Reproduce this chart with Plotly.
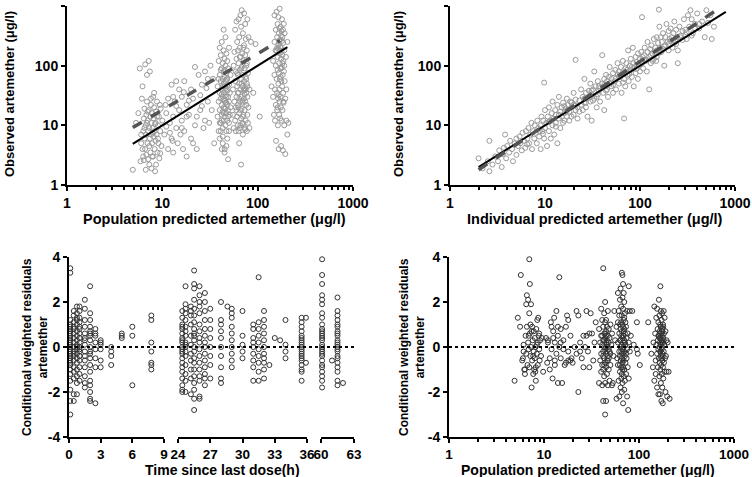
import plotly.graph_objects as go

# ---------------- DATA ----------------
# Top-left: population predicted (x) vs observed (y)
tl_points = [
    (4.9,1.8),(5.3,11),(5.6,16),(5.8,90),(6.0,5),(6.1,28),(6.2,45),(6.3,3),(6.3,8),(6.4,13),(6.4,2.6),(6.5,6),(6.5,19),
    (6.6,105),(6.6,4),(6.7,7),(6.7,10),(6.8,15),(6.8,3.2),(6.9,70),(6.9,25),(7.0,5),(7.0,12),(7.1,2.7),(7.1,8),(7.2,120),
    (7.2,18),(7.3,4.5),(7.3,9),(7.4,80),(7.4,6),(7.5,14),(7.5,3.5),(7.6,22),(7.6,7),(7.7,11),(7.7,1.9),(7.8,5),(7.8,16),
    (7.9,9),(8.0,3),(8.0,30),(8.1,6.5),(8.1,13),(8.2,20),(8.3,4),(8.3,8),(8.4,1.7),(8.5,11),(8.5,5.5),(8.6,17),(8.7,7),
    (8.8,25),(8.9,3.5),(9.0,10),(9.0,6),(9.2,14),(9.3,2.8),(9.5,8),(9.6,19),(9.8,4.5),(10,12),(6.2,4),(6.0,7),(5.9,2.5),
    (6.7,1.8),(7.3,2.2),(7.8,3),(8.6,2.2),(9.5,3.4),(6.5,9),(7.0,17),(7.6,28),(8.2,35),(8.8,14),(9.4,22),(6.9,11),(7.9,7.5),
    (8.4,10.5),(9.1,5),
    (10.5,7),(11,16),(11.5,4),(11.5,28),(12,11),(12.5,6),(12.5,48),(13,14),(13,3.5),(13.5,25),(14,9),(14,55),(14.5,5),
    (15,18),(15,40),(16,12),(16,30),(16.5,4),(17,55),(17,8),(18,22),(18,3),(19,15),(20,6),(20,40),(21,28),(22,10),(22,95),
    (23,4),(24,70),(25,18),(26,48),(28,12),(28,80),(30,25),(30,60),(31,11),(32,100),(33,18),(34,60),(35,5),(12,7.5),(14,21),
    (16,9),(19,26),(11,9.5),(13,30),(15.5,7),(18,14),(21,5),(25,32),(27,9),(29,42),(10.8,22),(12.8,5.5),(16.8,36),(23,14),(26,21),
    (38,14),(38,45),(39,8),(39,25),(39,120),(40,6),(40,18),(40,35),(40,70),(40,200),(41,11),(41,28),(41,55),(41,150),(42,4),
    (42,15),(42,22),(42,40),(42,90),(42,250),(43,9),(43,17),(43,30),(43,60),(43,110),(43,6.5),(44,12),(44,20),(44,35),(44,50),
    (44,80),(44,180),(44,400),(45,14),(45,26),(45,45),(45,65),(45,130),(45,3.5),(46,10),(46,19),(46,32),(46,55),(46,100),
    (46,300),(47,8),(47,16),(47,24),(47,40),(47,75),(47,160),(48,12),(48,22),(48,38),(48,60),(48,6),(49,18),(49,30),(49,90),
    (49,2.7),(50,11),(50,25),(50,48),(50,200),(51,15),(51,35),(52,20),(52,70),(43,5),(45,4),(47,4.5),(41,8),(44,27),(46,42),
    (48,120),(42,12),(45,85),(47,30),(49,14),(50,8),(39,60),(40,11),(44,16),(46,24),(43,45),(41,85),(45,19),(48,45),(42,33),(47,58),
    (55,15),(55,40),(56,9),(56,100),(57,25),(57,170),(58,12),(58,55),(58,400),(59,20),(59,80),(59,8),(60,30),(60,130),(60,550),
    (61,14),(61,45),(61,250),(62,10),(62,22),(62,70),(62,180),(63,35),(63,110),(63,600),(64,16),(64,50),(64,300),(64,5),(65,9),
    (65,25),(65,85),(65,200),(66,40),(66,140),(66,700),(67,13),(67,60),(67,450),(67,2.2),(68,19),(68,30),(68,95),(68,850),
    (69,11),(69,45),(69,160),(70,24),(70,70),(70,350),(70,7),(71,15),(71,38),(71,120),(72,28),(72,55),(72,220),(72,750),(73,9),
    (73,18),(73,90),(74,42),(74,150),(74,500),(75,12),(75,65),(75,280),(76,22),(76,35),(76,100),(77,8),(77,50),(77,180),(78,15),
    (78,30),(78,600),(79,11),(79,75),(80,20),(80,300),(82,40),(82,9),(85,250),(90,35),(95,230),(105,14),(60,18),(62,35),(64,28),
    (66,18),(68,50),(70,14),(72,40),(74,25),(76,60),(78,45),(61,75),(63,20),(65,140),(67,90),(69,26),(71,200),(73,33),(75,40),
    (77,110),(66,10),(70,10.5),(74,8.5),(63,8),
    (140,45),(145,30),(145,120),(148,15),(150,70),(150,250),(150,700),(152,12),(152,40),(155,100),(155,400),(155,22),(156,5.5),
    (158,60),(158,180),(158,800),(160,18),(160,35),(160,300),(162,85),(162,140),(162,500),(163,10),(164,28),(165,50),(165,220),
    (165,650),(166,4),(167,75),(167,350),(168,15),(168,110),(169,40),(170,25),(170,160),(170,900),(171,60),(172,270),(172,13),
    (173,90),(174,450),(174,30),(175,200),(175,20),(176,130),(176,4.5),(177,55),(178,380),(178,12),(179,95),(180,45),(180,600),
    (181,150),(182,18),(182,300),(183,70),(184,3.8),(185,240),(185,35),(186,120),(187,24),(188,500),(188,80),(190,10),(190,180),
    (192,55),(192,350),(195,28),(195,3.3),(198,140),(200,40),(200,12),(205,250),(205,7),(210,11),(168,260),(172,210),(176,320),
    (180,260),(164,190),(170,420),(184,400),(178,170),(174,65),(166,32),(160,200),(182,110),(186,25),(190,100),(176,90),(162,20),(154,180),
]
tl_identity = [(4.9, 4.9), (205, 205)]
tl_trend = [(4.9, 9.2), (172, 265)]

# Top-right: individual predicted (x) vs observed (y)
tr_points = [
    (2,2.8),(2.2,1.9),(2.5,2.5),(2.6,1.7),(2.6,5.5),(2.8,2.2),(3,3),(3.2,2.5),(3.3,3.8),(3.5,2),(3.6,3.3),(3.7,4.2),(3.8,7),
    (3.9,2.8),(4,4.5),(4.2,3.5),(4.3,5.5),(4.5,4),(4.6,2.5),(4.8,5),(5,3.2),(5,6),(5.2,4.5),(5.4,6.5),(5.5,5),(5.7,3.8),(5.8,7.5),
    (6,5.5),(6.2,4.2),(6.3,8),(6.5,6),(6.7,9),(6.8,5),(7,7),(7.2,11),(7.3,4),(7.5,8),(7.7,6),(7.8,10),(8,7.5),(8.2,5),(8.3,12),
    (8.5,9),(8.7,6.5),(9,10),(9,4),(9.2,14),(9.4,8),(9.8,52),(9.6,12),(9.8,6),(10,9),(10,18),(10.3,11),(10.5,4.5),(10.7,14),
    (11,8),(11,20),(11.3,12),(11.5,6),(11.8,16),(12,10),(12,25),(12.3,13),(12.5,7),(12.8,18),(13,11),(13,15),(13.5,22),(13.5,5),
    (14,13),(14,30),(14.5,17),(14.5,9),(15,14),(15,20),(15.5,24),(15.5,11),(16,16),(16,12),(16.5,19),(17,14),(17,28),(17.5,22),
    (18,17),(18,12),(18.5,25),(19,20),(19,14),(20,22),(20,35),(20,15),(21,18),(21,27),(22,20),(22,13),(23,26),(21,125),(24,22),
    (24,40),(25,18),(25,30),(26,24),(26,60),(27,35),(27,20),(28,28),(28,14),(29,38),(30,25),(30,50),(31,32),(31,12),(32,40),
    (33,28),(33,80),(34,45),(35,30),(35,20),(36,55),(37,38),(38,42),(38,25),(40,50),(40,150),(41,35),(42,60),(42,18),(43,45),
    (44,70),(45,40),(45,55),(46,30),(47,65),(48,50),(48,95),(50,45),(50,60),(52,75),(52,35),(54,55),(55,85),(56,40),(58,70),
    (58,110),(60,50),(60,80),(62,65),(63,95),(64,35),(65,75),(66,120),(68,60),(68,13),(70,90),(70,45),(72,110),(74,70),(75,180),
    (76,55),(78,100),(80,85),(80,130),(82,65),(84,200),(85,110),(86,45),(88,95),(90,140),(90,75),(92,115),(95,160),(95,60),
    (98,100),(100,130),(100,80),(103,170),(105,110),(105,650),(108,90),(110,150),(112,200),(115,120),(118,80),(120,170),(120,250),
    (125,140),(125,40),(128,190),(130,110),(132,220),(135,160),(140,280),(140,130),(145,200),(148,120),(150,180),(150,300),
    (155,240),(158,870),(160,450),(162,200),(165,300),(168,170),(170,250),(175,350),(180,210),(180,100),(185,300),(190,500),
    (195,250),(200,380),(200,180),(205,280),(210,420),(215,300),(220,200),(225,350),(230,550),(235,260),(240,400),(245,300),
    (250,180),(250,110),(260,450),(270,320),(280,380),(290,600),(300,400),(310,280),(320,700),(330,450),(340,850),(350,600),
    (360,350),(380,500),(400,750),(420,420),(450,550),(480,300),(500,850),(520,520),(550,700),(570,280),(600,450),
    (6.5,4.8),(9.5,7.2),(13,9.5),(16,21),(19,24),(23,17),(27,24),(32,26),(37,45),(44,38),(52,48),(60,65),(66,52),(73,85),
    (82,95),(92,88),(110,125),(130,150),(150,140),(175,190),(200,230),(230,240),(280,270),(310,360),(350,320),(420,500),
    (8.8,8),(11,11.5),(14,15),(17,17.5),(21,21.5),(26,28),(31,38),(36,33),(42,48),(50,52),(56,62),(63,70),(70,78),(77,72),
    (86,90),(96,105),(106,140),(118,125),(136,120),(160,165),(185,220),(210,260),(240,230),(265,300),(300,330),(380,420),
]
tr_identity = [(2, 2), (800, 800)]
tr_trend = [(2, 1.8), (740, 1000)]

# Bottom-left: time since last dose (h) columns and conditional weighted residuals
bl_columns = [
    (0.12, [3.5,3.3,1.2,1.0,0.8,0.6,0.5,0.3,0.2,0.1,0.0,-0.1,-0.2,-0.3,-0.5,-0.6,-0.8,-1.0,-1.2,-1.5,-1.9,-2.4,-3.0,0.9,0.4,-0.4,-0.7,0.7]),
    (0.45, [1.6,1.4,1.1,0.9,0.6,0.4,0.2,0.0,-0.2,-0.4,-0.6,-0.9,-1.1,-1.4,-2.1,-2.4,0.8,-0.3]),
    (0.75, [1.8,1.5,1.3,1.0,0.7,0.5,0.3,0.1,-0.1,-0.3,-0.5,-0.7,-1.0,-1.3,-1.6,-2.1,1.2,0.0]),
    (1.0, [1.8,1.6,1.3,1.1,0.8,0.6,0.4,0.2,0.0,-0.2,-0.4,-0.6,-0.9,-1.2,-1.5,0.9,-0.1]),
    (1.5, [2.1,1.7,1.2,0.9,0.6,0.3,0.1,-0.2,-0.6,-0.9,-1.3,-1.6,-1.8,0.4,-0.4]),
    (2.0, [2.7,1.5,1.2,0.9,0.7,0.5,0.3,0.0,-0.3,-0.5,-0.8,-1.1,-1.5,-1.7,-2.0,-2.3,-2.4,0.6,-0.2]),
    (2.5, [0.8,0.5,0.2,-0.1,-0.5,-0.9,-2.5,0.6]),
    (3.0, [0.3,0.1,-0.1,-0.6,-0.9,0.2]),
    (4.0, [0.0,-0.2,-0.4,-0.8]),
    (5.0, [0.6,0.5,0.4]),
    (6.0, [0.9,0.5,-1.7]),
    (7.8, [1.4,1.2,0.2,-0.2,-0.7,-0.8,-1.0]),
    (24.4, [1.6,1.3,1.0,0.8,0.6,0.4,0.2,0.0,-0.1,-0.3,-0.5,-0.7,-0.9,-1.1,-1.4,-1.7,-1.9,-2.0,0.9,0.3,-0.2]),
    (24.7, [2.7,1.9,1.7,1.5,1.2,0.9,0.7,0.5,0.2,0.0,-0.2,-0.4,-0.8,-1.2,-1.5,-2.0,0.1]),
    (25.2, [1.8,1.6,1.4,1.0,0.5,0.1,-0.3,-0.6,-1.0,-1.4,-2.1]),
    (25.5, [3.4,2.8,2.6,2.1,1.7,1.4,1.1,0.8,0.5,0.3,0.0,-0.2,-0.5,-0.7,-1.0,-1.3,-1.6,-1.9,-2.3,-2.8,0.6]),
    (26.0, [2.7,2.3,2.0,1.8,1.5,1.0,0.7,0.4,0.2,-0.1,-0.4,-0.7,-1.0,-1.3,-1.5,-2.2,-2.3]),
    (26.5, [2.4,2.0,1.6,1.2,0.8,0.5,0.2,0.0,-0.3,-0.6,-0.9,-1.2,-1.4,-1.7]),
    (27.0, [1.7,1.2,0.8,0.4,0.0,-0.4,-0.8,-1.4]),
    (28.0, [2.0,1.2,1.0,0.7,0.4,0.0,-0.4,-0.9,-1.4,-1.6]),
    (28.6, [1.8]),
    (29.0, [1.7,1.5,1.3,0.9,0.6,0.3,0.0,-0.3,-0.6,-0.9]),
    (30.0, [1.6,0.5,0.1,-0.2,-0.5]),
    (31.0, [1.0,0.8,0.4,0.2,0.0,-0.3,-0.6,-0.9,-1.5]),
    (31.5, [3.1,1.1,0.8,0.5,0.2,-0.1,-0.4,-0.7,-1.1,-1.5]),
    (32.0, [1.6,1.2,0.9,0.6,0.3,0.0,-0.3,-0.5,-0.7,-1.0,-1.4]),
    (32.5, [-0.8]),
    (33.0, [0.4]),
    (33.5, [0.3]),
    (34.0, [1.2,0.1,-0.2,-0.5]),
    (35.5, [1.3,1.1,0.9,0.7,0.5,0.4,0.3,0.2,0.1,0.0,-0.1,-0.2,-0.3,-0.4,-0.5,-0.6,-0.8,-1.0,-1.1,-1.5]),
    (35.9, [1.3,-0.7]),
    (60.1, [3.9,3.2,2.8,2.3,2.1,1.9,1.5,1.3,1.0,0.8,0.7,0.6,0.4,0.3,0.1,0.0,-0.1,-0.3,-0.4,-0.6,-0.8,-0.9,-1.1,-1.3,-1.5,-1.8,0.5,-0.2]),
    (61.0, [-0.6]),
    (61.5, [2.2,1.6,1.4,1.2,1.0,0.9,0.7,0.5,0.3,0.2,0.1,0.0,-0.1,-0.2,-0.4,-0.5,-0.7,-0.9,-1.1,-1.5,-1.7,0.6]),
    (62.0, [-1.6]),
]

# Bottom-right: population predicted (x) vs conditional weighted residuals (y)
br_points = [
    (4.9,-1.5),(5.3,1.3),(5.6,0.9),(5.7,3.2),(5.9,-0.6),(6.0,-0.5),(6.1,0.1),(6.2,-1.0),(6.3,-1.2),(6.4,0.5),(6.5,1.9),(6.5,-0.3),
    (6.6,2.3),(6.6,0.9),(6.7,-0.8),(6.8,2.1),(6.8,0.2),(6.9,-0.1),(7.0,3.9),(7.0,1.5),(7.0,-0.9),(7.1,2.8),(7.1,0.6),(7.2,-0.4),
    (7.3,1.9),(7.3,0.0),(7.4,-1.8),(7.5,0.9),(7.5,-0.6),(7.6,0.3),(7.7,-1.2),(7.8,0.7),(7.8,-0.2),(7.9,-1.0),(8.0,0.4),(8.0,-0.5),
    (8.1,0.0),(8.2,-1.5),(8.3,0.8),(8.4,-0.3),(8.5,1.2),(8.6,0.2),(8.6,-0.8),(8.7,1.3),(8.8,0.5),(8.9,-0.1),(9.0,-0.6),(9.1,0.3),
    (9.3,-0.4),(9.5,0.4),(9.8,-1.1),(6.3,-1.0),(6.9,0.5),(7.4,0.7),(8.2,-0.9),(8.9,0.6),(7.2,1.0),(8.4,0.1),(6.1,-0.2),(7.7,-0.4),(8.1,-1.1),
    (10.5,0.4),(10.8,-0.7),(11,0.3),(11.5,-1.0),(11.8,1.1),(12,-0.1),(12.3,-1.4),(12.5,0.7),(12.8,1.3),(13,0.2),(13,-0.6),(13.5,1.6),
    (13.5,-0.3),(14,0.9),(14,-1.6),(14.5,3.1),(14.5,0.0),(15,-0.5),(15,0.8),(15.5,-1.6),(16,0.3),(16.5,-0.8),(17,0.9),(17.5,1.4),
    (18,-0.2),(18,1.2),(19,0.5),(19.5,-0.5),(20,-0.7),(21,0.0),(22,1.6),(22,-0.3),(23,-2.0),(23,1.4),(24,0.2),(25,-0.5),(26,-0.9),
    (27,0.0),(28,1.6),(28,0.5),(29,-0.2),(30,0.6),(30,-0.9),(31,1.5),(32,0.6),(33,-0.6),(34,0.2),(35,1.1),(11,0.2),(12.5,0.4),
    (14,0.5),(16,-0.1),(18,-0.6),(13,-0.8),(15,0.2),(11.5,-0.5),(12,0.9),(17,-0.7),(19,-0.6),(24,-0.2),(26,0.5),
    (38,-1.6),(38,0.8),(39,0.2),(39,-0.6),(40,1.7),(40,0.5),(40,-0.3),(40,-1.1),(41,1.2),(41,0.1),(41,-0.8),(41,-1.7),(42,3.5),
    (42,0.9),(42,0.3),(42,-0.2),(42,-1.0),(42,-2.4),(43,1.5),(43,0.6),(43,0.0),(43,-0.5),(43,-1.3),(44,2.0),(44,1.1),(44,0.4),
    (44,-0.1),(44,-0.7),(44,-1.6),(44,-3.0),(45,1.2),(45,0.7),(45,0.2),(45,-0.3),(45,-0.9),(45,-2.4),(46,0.9),(46,0.3),(46,-0.2),
    (46,-0.6),(46,-1.2),(47,1.6),(47,0.5),(47,0.0),(47,-0.4),(47,-1.7),(48,0.8),(48,0.2),(48,-0.5),(48,-1.0),(49,0.4),(49,-0.2),
    (49,-1.5),(50,1.0),(50,-0.3),(50,-0.8),(51,0.1),(52,-1.7),(52,0.6),(53,-1.6),(43,0.3),(45,0.0),(47,-0.6),(42,-0.4),(44,0.6),
    (46,0.1),(48,-0.1),(41,0.5),(43,-0.8),(45,0.5),(55,1.6),(56,0.3),(54,-0.4),
    (58,-2.3),(58,0.9),(59,-0.5),(60,2.4),(60,1.1),(60,0.2),(60,-0.8),(61,1.6),(61,-1.5),(62,0.6),(62,-0.2),(62,-2.2),(63,2.1),
    (63,1.0),(63,0.3),(63,-0.4),(63,-1.1),(64,2.6),(64,0.8),(64,0.0),(64,-0.6),(64,-1.8),(65,1.8),(65,0.5),(65,-0.2),(65,-0.9),
    (65,-1.4),(66,3.3),(66,1.4),(66,0.7),(66,0.1),(66,-0.5),(66,-1.2),(66,-2.0),(67,3.2),(67,2.2),(67,1.0),(67,0.4),(67,-0.1),
    (67,-0.7),(67,-1.6),(68,2.8),(68,1.7),(68,0.9),(68,0.2),(68,-0.3),(68,-0.9),(68,-2.5),(69,2.4),(69,1.2),(69,0.5),(69,0.0),
    (69,-0.6),(69,-1.3),(70,2.0),(70,0.8),(70,0.3),(70,-0.2),(70,-1.0),(70,-1.9),(71,1.5),(71,0.6),(71,-0.4),(71,-1.5),(72,1.1),
    (72,0.1),(72,-0.7),(73,0.9),(73,-0.3),(73,-1.2),(74,0.4),(74,-0.5),(75,1.6),(75,-0.1),(75,-2.2),(76,0.6),(76,-0.9),(77,-2.8),
    (78,2.7),(78,0.2),(78,-1.4),(80,1.6),(80,-0.2),(82,0.5),(85,1.6),(88,0.1),(95,1.1),(95,-0.1),(97,-0.3),(102,-0.8),(66,-0.3),
    (68,0.5),(70,1.3),(64,0.3),(67,-1.0),(69,0.7),(71,0.2),(65,1.1),(63,-0.8),(62,1.4),
    (125,1.1),(135,-0.3),(140,-0.9),(142,0.2),(145,1.8),(145,-1.5),(148,0.6),(150,-0.6),(150,-1.2),(152,1.3),(152,0.1),(155,1.7),
    (155,-0.3),(155,-1.8),(157,0.8),(158,0.3),(158,-0.9),(160,1.1),(160,-0.1),(160,-2.1),(162,2.1),(162,0.5),(162,-0.5),(164,1.4),
    (164,0.0),(164,-1.3),(165,0.7),(165,-0.7),(166,0.2),(166,-2.1),(167,1.0),(167,-0.2),(168,2.7),(168,0.4),(168,-1.0),(169,0.9),
    (169,-0.4),(170,1.6),(170,0.1),(170,-1.6),(171,0.6),(171,-0.8),(172,0.3),(172,-2.4),(173,1.2),(173,-0.1),(174,0.5),(174,-1.2),
    (175,1.5),(175,0.0),(176,-0.6),(176,-1.8),(177,0.8),(177,-0.3),(178,0.2),(178,-2.5),(179,1.0),(179,-0.9),(180,0.4),(180,-1.4),
    (182,1.6),(182,-0.2),(183,0.6),(183,-0.7),(185,0.1),(185,-1.1),(186,1.3),(188,-0.5),(190,0.7),(190,-2.0),(192,-0.4),(195,0.3),
    (195,-1.1),(198,-2.2),(200,0.2),(205,-1.1),(210,-2.3),(166,0.6),(170,0.9),(174,0.2),(178,-0.4),(182,0.3),(168,-0.2),(176,0.7),
    (172,-0.5),(164,0.4),(180,0.9),(160,0.5),
]

log_ticks = [1, 10, 100, 1000]
log_minor = [m * d for d in (1, 10, 100) for m in range(2, 10)]
cwres_ticks = [-4, -2, 0, 2, 4]
seg1_ticks = [0, 3, 6, 9]
seg2_ticks = [24, 27, 30, 33, 36]
seg3_ticks = [60, 63]

# ---------------- FIGURE ----------------
W, H = 752, 477
def px_x(p): return p / W
def px_y(p): return 1 - p / H

GREY = "#9a9a9a"
DARK = "#333333"
FONT = "Liberation Sans, Arial, sans-serif"

fig = go.Figure()

def scatter(pts, xa, ya, color):
    xs, ys = zip(*pts)
    fig.add_trace(go.Scatter(x=xs, y=ys, mode="markers", xaxis=xa, yaxis=ya, cliponaxis=False,
                             marker=dict(symbol="circle-open", size=5, color=color, line=dict(width=1, color=color)),
                             showlegend=False, hoverinfo="skip"))

def line(pts, xa, ya, color, width, dash):
    xs, ys = zip(*pts)
    fig.add_trace(go.Scatter(x=xs, y=ys, mode="lines", xaxis=xa, yaxis=ya,
                             line=dict(color=color, width=width, dash=dash), showlegend=False, hoverinfo="skip"))

scatter(tl_points, "x", "y", GREY)
line(tl_identity, "x", "y", "black", 2, "solid")
line(tl_trend, "x", "y", "#555555", 3.5, "dash")

scatter(tr_points, "x2", "y2", GREY)
line(tr_identity, "x2", "y2", "black", 2, "solid")
line(tr_trend, "x2", "y2", "#555555", 3.5, "dash")

seg_pts = {"x3": [], "x4": [], "x5": []}
for t, vals in bl_columns:
    key = "x3" if t < 12 else ("x4" if t < 45 else "x5")
    for v in vals:
        seg_pts[key].append((t, v))
for key, pts in seg_pts.items():
    scatter(pts, key, "y3", DARK)

scatter(br_points, "x6", "y4", DARK)

def bold(vals):
    return ["<b>%s</b>" % v for v in vals]

def axis_style(size=14):
    return dict(showline=True, linecolor="black", linewidth=2, ticks="outside", ticklen=4, tickwidth=2,
                tickcolor="black", showgrid=False, zeroline=False,
                tickfont=dict(family=FONT, size=size, color="black"), automargin=False, fixedrange=True)

minor_log = dict(tickvals=log_minor, ticks="outside", ticklen=3, tickwidth=1.5, tickcolor="black")

def log_x(size=14):
    return dict(type="log", range=[0, 3], tickvals=log_ticks, ticktext=bold(log_ticks), minor=minor_log, **axis_style(size))

log_y = dict(type="log", range=[0, 3], tickvals=log_ticks, ticktext=bold(log_ticks), **axis_style())
res_y = dict(range=[-4, 4], tickvals=cwres_ticks, ticktext=bold(cwres_ticks), **axis_style())

top_dom = [px_y(185), px_y(6)]
bot_dom = [px_y(437), px_y(257)]
BX = 13.5

fig.update_layout(
    template="none",
    width=W, height=H, margin=dict(l=0, r=0, t=0, b=0, pad=0),
    paper_bgcolor="white", plot_bgcolor="white",
    xaxis=dict(domain=[px_x(67), px_x(353)], anchor="y", **log_x()),
    yaxis=dict(domain=top_dom, anchor="x", **log_y),
    xaxis2=dict(domain=[px_x(450), px_x(735)], anchor="y2", **log_x()),
    yaxis2=dict(domain=top_dom, anchor="x2", **log_y),
    xaxis3=dict(domain=[px_x(69), px_x(164)], anchor="y3", range=[0, 9], tickvals=seg1_ticks, ticktext=bold(seg1_ticks), **axis_style(BX)),
    xaxis4=dict(domain=[px_x(178), px_x(307)], anchor="y3", range=[24, 36], tickvals=seg2_ticks, ticktext=bold(seg2_ticks), **axis_style(BX)),
    xaxis5=dict(domain=[px_x(321), px_x(354)], anchor="y3", range=[60, 63], tickvals=seg3_ticks, ticktext=bold(seg3_ticks), **axis_style(BX)),
    yaxis3=dict(domain=bot_dom, anchor="x3", **res_y),
    xaxis6=dict(domain=[px_x(449), px_x(734)], anchor="y4", **log_x(BX)),
    yaxis4=dict(domain=bot_dom, anchor="x6", **res_y),
)

# zero reference lines (dotted)
fig.add_shape(type="line", xref="paper", yref="y3", x0=px_x(69), x1=px_x(354), y0=0, y1=0,
              line=dict(color="black", width=2, dash="dot"))
fig.add_shape(type="line", xref="x6", yref="y4", x0=1, x1=1000, y0=0, y1=0,
              line=dict(color="black", width=2, dash="dot"))

def title(lines, xp, yp, size, angle=0):
    text = "<br>".join("<b>%s</b>" % s for s in lines)
    fig.add_annotation(text=text, xref="paper", yref="paper", x=px_x(xp), y=px_y(yp), showarrow=False,
                       textangle=angle, font=dict(family=FONT, size=size, color="black"),
                       xanchor="center", yanchor="middle")

title(["Population predicted artemether (μg/l)"], 214, 219, 14.5)
title(["Individual predicted artemether (μg/l)"], 595, 219, 14.5)
title(["Observed artemether (μg/l)"], 9, 94, 13, -90)
title(["Observed artemether (μg/l)"], 398, 94, 13, -90)
title(["Time since last dose(h)"], 222, 470, 14)
title(["Population predicted artemether (μg/l)"], 588, 470, 14)
title(["Conditional weighted residuals", "artemether"], 35, 347, 12, -90)
title(["Conditional weighted residuals", "artemether"], 412, 347, 12, -90)

fig.write_html("out.html", config={"displayModeBar": False},
               post_script="document.body.style.margin='0';document.body.style.overflow='hidden';")
